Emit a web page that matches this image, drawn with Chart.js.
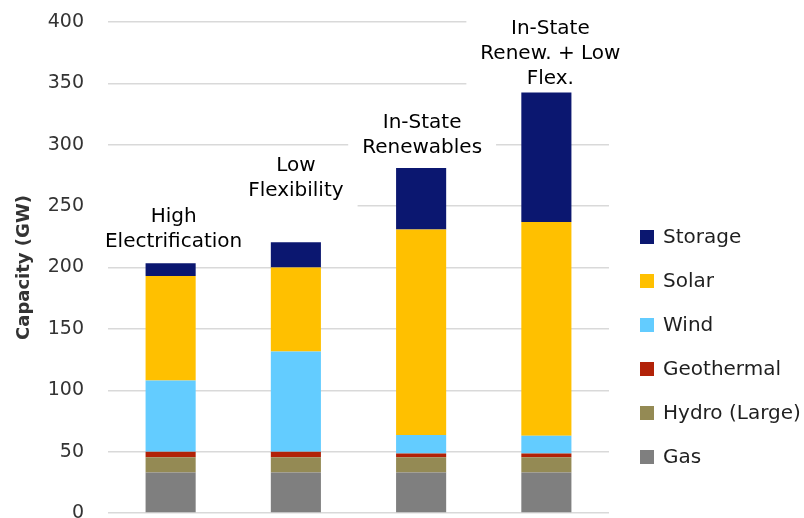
<!DOCTYPE html>
<html>
<head>
<meta charset="utf-8">
<script src="https://cdn.jsdelivr.net/npm/chart.js@4/dist/chart.umd.min.js"></script>
<style>
  html, body { margin: 0; padding: 0; background: #fff; }
  #wrap { width: 804px; height: 518px; position: relative; }
</style>
</head>
<body>
<div id="wrap"><canvas id="c" width="804" height="518"></canvas></div>
<script>
// Scenario names (one entry per bar, split into display lines)
const scenarios = [
  ['High', 'Electrification'],
  ['Low', 'Flexibility'],
  ['In-State', 'Renewables'],
  ['In-State', 'Renew. + Low', 'Flex.']
];

// Installed capacity by resource, GW
const gas        = [33, 33, 33, 33];
const hydroLarge = [12.5, 12.5, 12.5, 12.5];
const geothermal = [4.5, 4.5, 3, 3];
const wind       = [58, 81.5, 15, 14.5];
const solar      = [85, 68.5, 167.5, 174];
const storage    = [10.5, 20.5, 50, 105.5];

// Value axis
const yMin = 0;
const yMax = 400;
const yStep = 50;

const FONT = '"DejaVu Sans", Verdana, sans-serif';

// Scenario captions sitting above each stack, on a white text box
const captionStyle = {
  font: '20px ' + FONT,
  color: '#000000',
  lineHeight: 25,
  padX: 14,
  padTop: 3,
  padBottom: 5,
  lift: [21, 52, 20, 14],   // px between stack top and centre of last caption line
  shift: [3, 0, 1, 4]       // px horizontal nudge
};

// Legend on the right, top entry = top of the stack
const legendStyle = {
  x: 640,
  top: 237,
  spacing: 44,
  box: 14,
  gap: 9,
  font: '20px ' + FONT,
  color: '#1f1f1f'
};

const captionPlugin = {
  id: 'scenarioCaptions',
  beforeDatasetsDraw(chart) {
    this._draw(chart, true);
  },
  afterDatasetsDraw(chart) {
    this._draw(chart, false);
  },
  _draw(chart, boxesOnly) {
    const ctx = chart.ctx;
    const topMeta = chart.getDatasetMeta(chart.data.datasets.length - 1);
    const s = captionStyle;
    ctx.save();
    ctx.font = s.font;
    ctx.textAlign = 'center';
    ctx.textBaseline = 'middle';
    chart.data.labels.forEach((lines, i) => {
      const bar = topMeta.data[i];
      const cx = bar.x + s.shift[i];
      const lastY = bar.y - s.lift[i];
      const n = lines.length;
      const firstY = lastY - (n - 1) * s.lineHeight;
      if (boxesOnly) {
        const w = Math.max(...lines.map(t => ctx.measureText(t).width)) + 2 * s.padX;
        const top = firstY - 12 - s.padTop;
        const bottom = lastY + 13 + s.padBottom;
        ctx.fillStyle = '#ffffff';
        ctx.fillRect(cx - w / 2, top, w, bottom - top);
      } else {
        ctx.fillStyle = s.color;
        lines.forEach((t, k) => ctx.fillText(t, cx, firstY + k * s.lineHeight));
      }
    });
    ctx.restore();
  }
};

const legendPlugin = {
  id: 'sideLegend',
  afterDraw(chart) {
    const ctx = chart.ctx;
    const L = legendStyle;
    const sets = chart.data.datasets;
    ctx.save();
    ctx.font = L.font;
    ctx.textAlign = 'left';
    ctx.textBaseline = 'middle';
    for (let j = sets.length - 1, row = 0; j >= 0; j--, row++) {
      const cy = L.top + row * L.spacing;
      ctx.fillStyle = sets[j].backgroundColor;
      ctx.fillRect(L.x, cy - L.box / 2, L.box, L.box);
      ctx.fillStyle = L.color;
      ctx.fillText(sets[j].label, L.x + L.box + L.gap, cy + 1);
    }
    ctx.restore();
  }
};

new Chart(document.getElementById('c'), {
  type: 'bar',
  data: {
    labels: scenarios,
    datasets: [
      { label: 'Gas',           data: gas,        backgroundColor: '#7f7f7f' },
      { label: 'Hydro (Large)', data: hydroLarge, backgroundColor: '#948a54' },
      { label: 'Geothermal',    data: geothermal, backgroundColor: '#b22208' },
      { label: 'Wind',          data: wind,       backgroundColor: '#63ccff' },
      { label: 'Solar',         data: solar,      backgroundColor: '#ffc000' },
      { label: 'Storage',       data: storage,    backgroundColor: '#0b1770' }
    ]
  },
  options: {
    responsive: false,
    animation: false,
    devicePixelRatio: 1,
    datasets: {
      bar: { categoryPercentage: 0.8, barPercentage: 0.5, borderWidth: 0 }
    },
    layout: { padding: { top: 22, bottom: 5, left: 0, right: 195 } },
    plugins: {
      legend: { display: false },
      tooltip: { enabled: false }
    },
    scales: {
      x: {
        stacked: true,
        display: false
      },
      y: {
        stacked: true,
        min: yMin,
        max: yMax,
        border: { display: false },
        grid: { color: '#d9d9d9', lineWidth: 1.5, drawTicks: false },
        ticks: {
          stepSize: yStep,
          padding: 24,
          color: '#333333',
          font: { family: FONT, size: 19 }
        },
        title: {
          display: true,
          text: 'Capacity (GW)',
          color: '#333333',
          font: { family: FONT, size: 18, weight: 'bold' },
          padding: { top: 14 }
        },
        afterFit(scale) {
          scale.width = 108;
          scale.paddingTop = 0;
          scale.paddingBottom = 0;
        }
      }
    }
  },
  plugins: [captionPlugin, legendPlugin]
});
</script>
</body>
</html>
